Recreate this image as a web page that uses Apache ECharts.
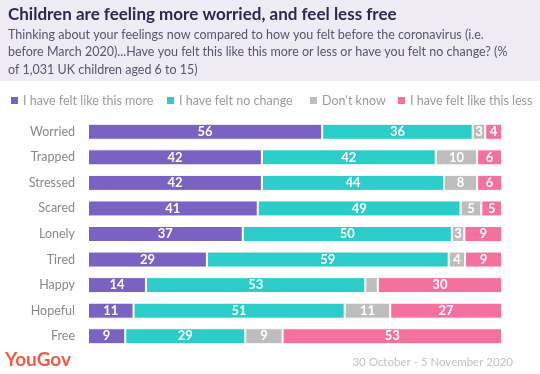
<!DOCTYPE html>
<html><head><meta charset="utf-8">
<script src="https://cdn.jsdelivr.net/npm/echarts@6/dist/echarts.min.js"></script>
<style>html,body{margin:0;padding:0;background:#fff}#c{width:540px;height:374px}</style>
</head><body><div id="c"></div>
<script>
const categories = ['Worried','Trapped','Stressed','Scared','Lonely','Tired','Happy','Hopeful','Free'];
const seriesNames = ['I have felt like this more','I have felt no change',"Don't know",'I have felt like this less'];
const more   = [56,42,42,41,37,29,14,11,9];
const noChange = [36,42,44,49,50,59,53,51,29];
const dontKnow = [3,10,8,5,3,4,3,11,9];
const less   = [4,6,6,5,9,9,30,27,53];
const hiddenLabels = [[], [], ['Happy'], []];
const colors = ['#7b61c2','#2ccdc8','#bdbdbd','#f4709f'];

const raw = [more, noChange, dontKnow, less];
const totals = categories.map((c,i)=>raw.reduce((s,a)=>s+a[i],0));
const FONT = 'Lato, "Noto Sans", sans-serif';

const series = raw.map((arr,si)=>({
  name: seriesNames[si],
  type: 'bar',
  stack: 'all',
  barWidth: 16,
  itemStyle: {color: colors[si], borderColor:'#fff', borderWidth:1},
  label: {show:true, position:'inside', color:'#fff', fontFamily:FONT, fontWeight:'bold', fontSize:13,
          formatter: p => String(arr[p.dataIndex])},
  data: arr.map((v,i)=>{
    const item = {value: v/totals[i]*100};
    if (hiddenLabels[si].includes(categories[i])) item.label = {show:false};
    return item;
  })
}));

const legendLefts = [9, 165, 308, 396];
const legends = seriesNames.map((n,i)=>({
  left: legendLefts[i], top: 94, padding:0, itemWidth:9, itemHeight:9, icon:'rect', itemGap:0,
  textStyle:{fontFamily:FONT, fontSize:12.5, color:'#9a9a9a', padding:[0,0,0,-1]}, data:[n]
}));

const chart = echarts.init(document.getElementById('c'));
chart.setOption({
  animation:false,
  textStyle:{fontFamily:FONT},
  graphic:[
    {type:'rect', shape:{x:0,y:0,width:540,height:81}, style:{fill:'#eeebf5'}, z:-1},
    {type:'text', left:5, top:350, style:{text:'YouGov', fill:'#f05a46', font:'bold 19px '+FONT}},
    {type:'text', right:27, top:356, style:{text:'30 October - 5 November 2020', fill:'#c2c2c2', font:'11.5px '+FONT}}
  ],
  title:[
    {text:'Children are feeling more worried, and feel less free', left:8, top:6, padding:0,
     textStyle:{fontFamily:FONT, fontSize:17, fontWeight:'bold', color:'#2b2950'}},
    {text:'Thinking about your feelings now compared to how you felt before the coronavirus (i.e.\nbefore March 2020)...Have you felt this like this more or less or have you felt no change? (%\nof 1,031 UK children aged 6 to 15)',
     left:8, top:26, padding:0, textStyle:{fontFamily:FONT, fontSize:12.5, fontWeight:'normal', color:'#57556c', lineHeight:17.5}}
  ],
  legend: legends,
  grid:{left:88, right:38, top:119, bottom:25},
  xAxis:{type:'value', min:0, max:100, show:false},
  yAxis:{type:'category', inverse:true, data:categories,
    axisLine:{show:false}, axisTick:{show:false},
    axisLabel:{margin:13, color:'#888', fontSize:12.5, fontFamily:FONT}},
  series
});
</script></body></html>
